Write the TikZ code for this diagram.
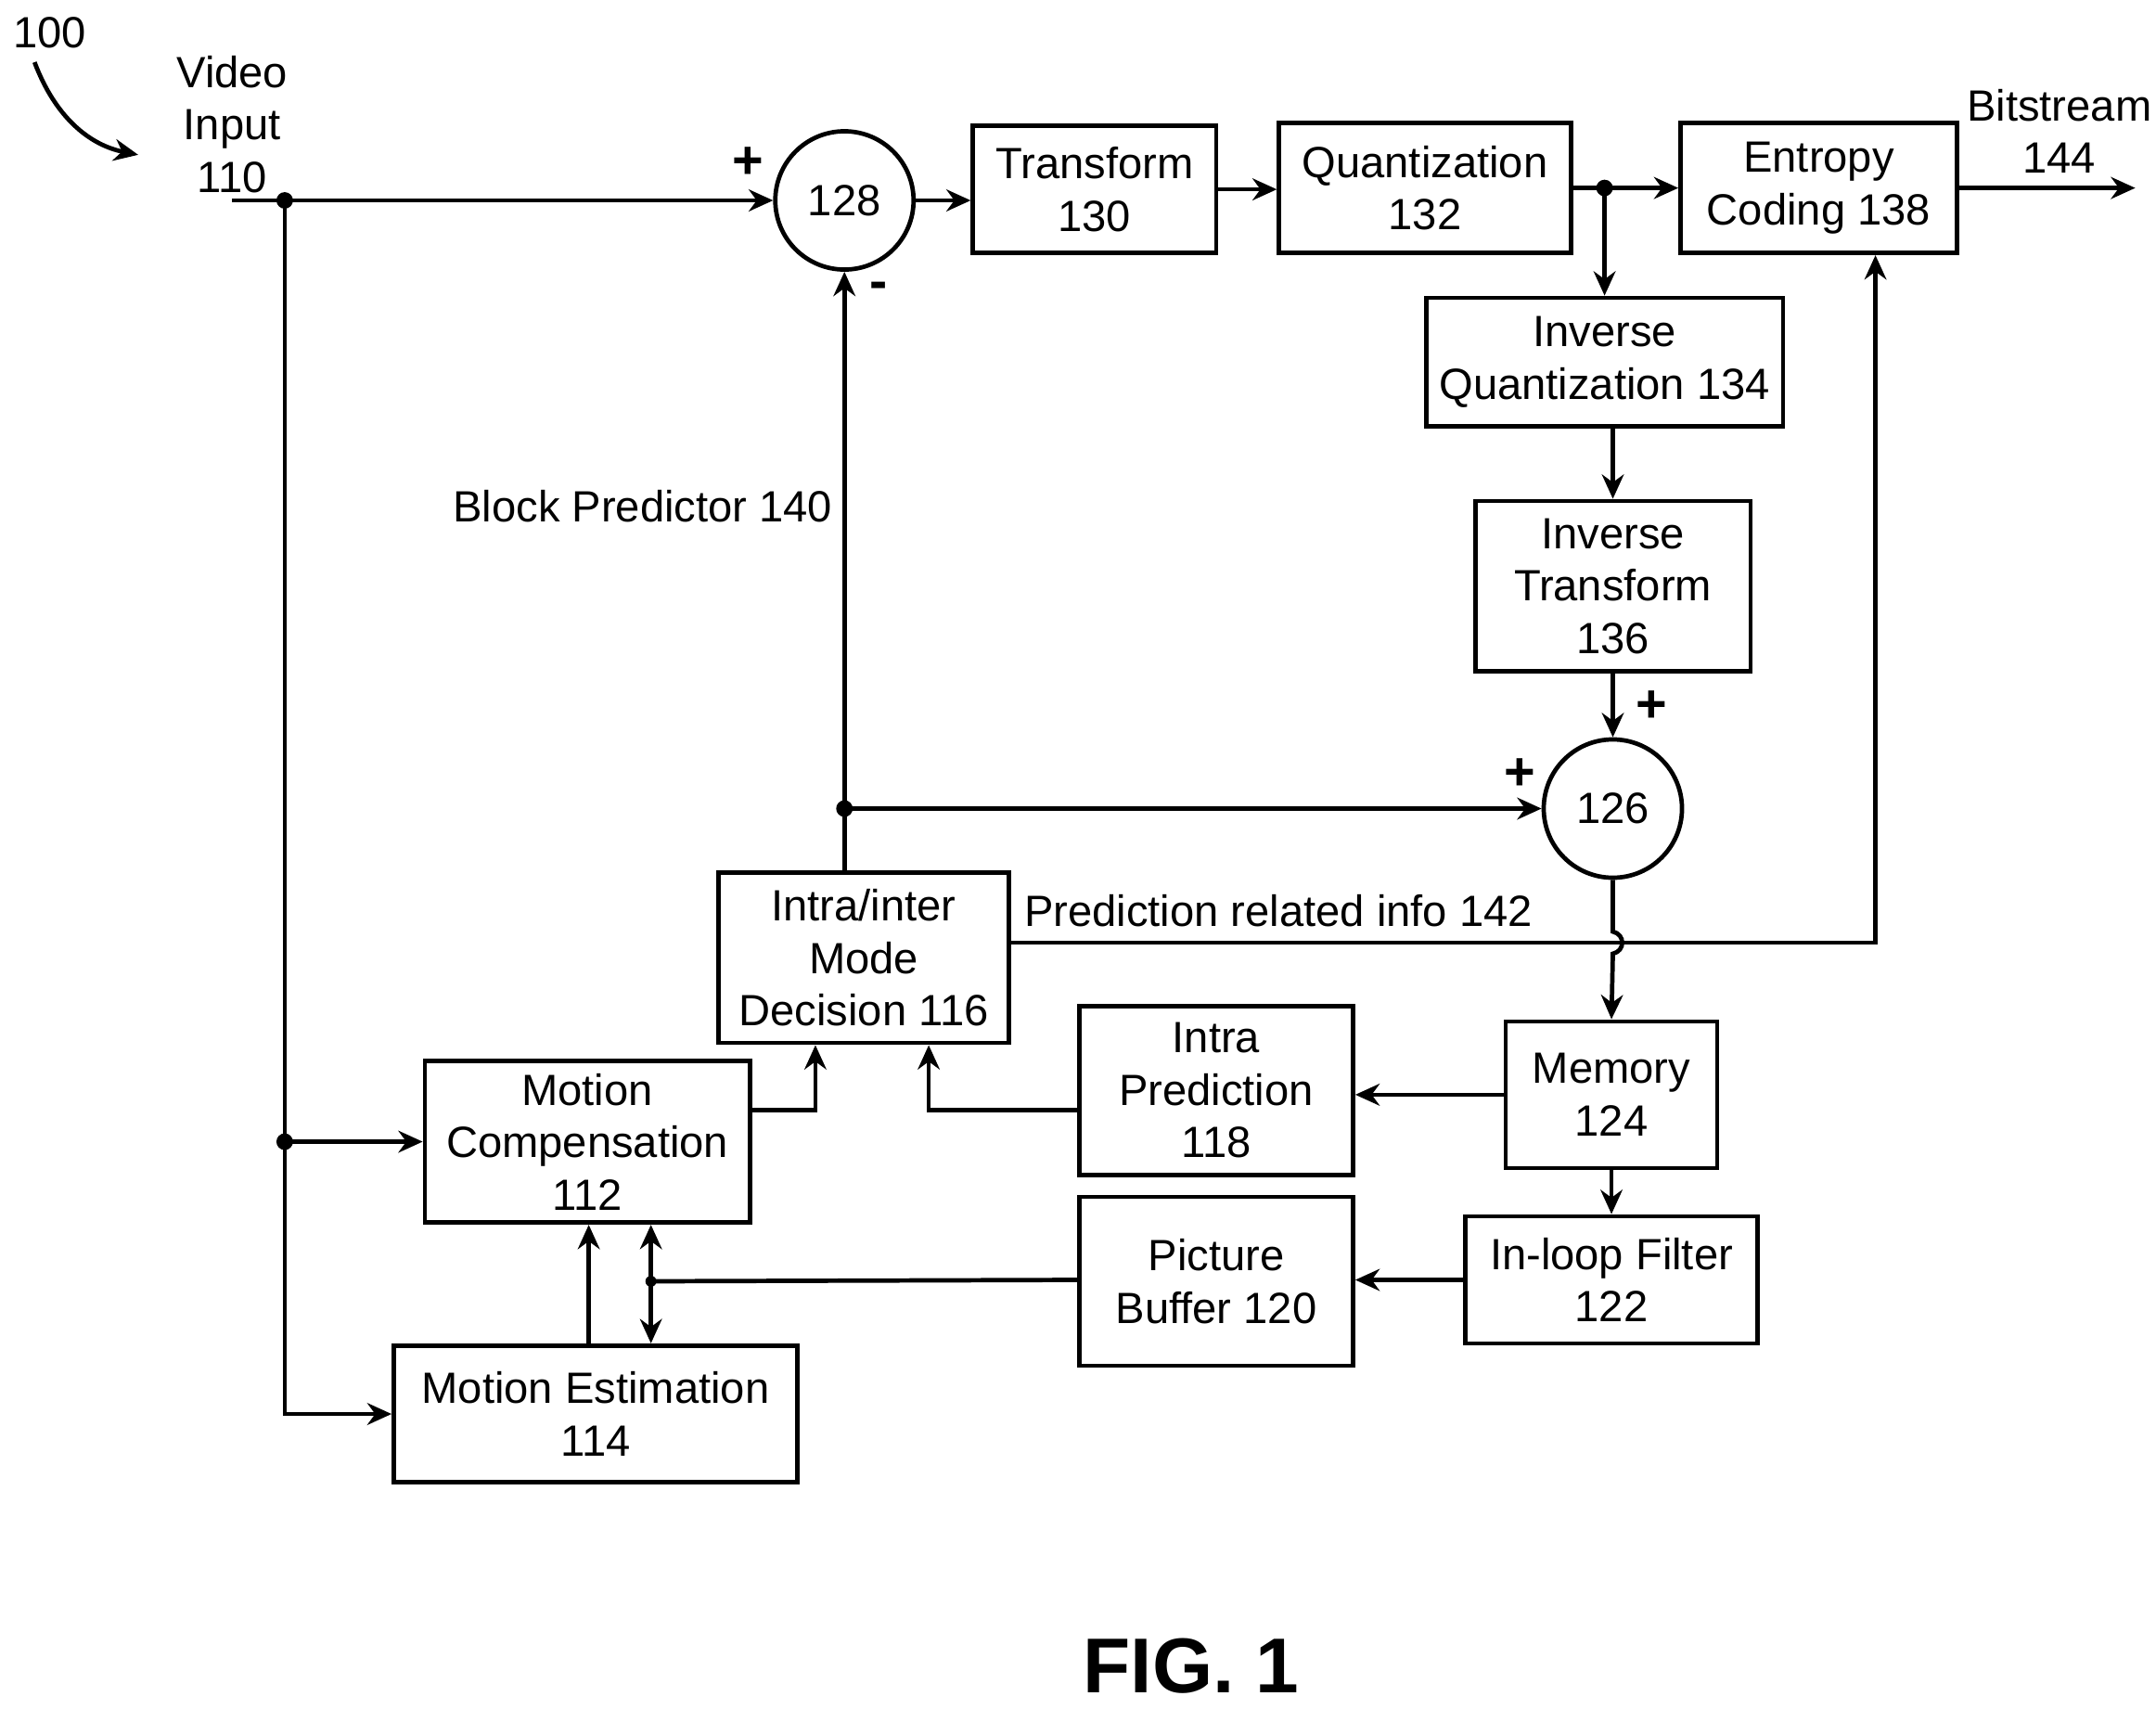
\documentclass[tikz,border=0pt]{standalone}
\usepackage{fontspec}
\setmainfont{Liberation Sans}
\usetikzlibrary{arrows.meta,positioning}
\tikzset{
  blk/.style={draw, line width=0.9pt, align=center, inner sep=0pt, font=\fontsize{9}{10.8}\selectfont},
  sumc/.style={draw, circle, line width=0.9pt, minimum size=1cm, inner sep=0pt, font=\fontsize{9}{10.8}\selectfont},
  wire/.style={line width=0.9pt},
  arr/.style={wire, -{Stealth[length=5pt,width=4.5pt]}},
  lbl/.style={font=\fontsize{9}{10.8}\selectfont, align=center},
  sgn/.style={font=\bfseries\fontsize{11}{11}\selectfont},
}
\begin{document}
\begin{tikzpicture}[x=0.01cm, y=-0.01cm]
  \useasboundingbox (0,0) rectangle (1560,1236);

  % blocks
  \node[sumc] (s128) at (611,145) {128};
  \node[blk, minimum width=1.76cm, minimum height=0.92cm] (tr) at (792,137) {Transform\\130};
  \node[blk, minimum width=2.11cm, minimum height=0.94cm] (qu) at (1031,136) {Quantization\\132};
  \node[blk, minimum width=2.0cm, minimum height=0.94cm] (ec) at (1316,136) {Entropy\\Coding 138};
  \node[blk, minimum width=2.58cm, minimum height=0.93cm] (iq) at (1161,262) {Inverse\\Quantization 134};
  \node[blk, minimum width=1.99cm, minimum height=1.23cm] (it) at (1167,424) {Inverse\\Transform\\136};
  \node[sumc] (s126) at (1167,585) {126};
  \node[blk, minimum width=2.1cm, minimum height=1.23cm] (md) at (625,693) {Intra/inter\\Mode\\Decision 116};
  \node[blk, minimum width=1.53cm, minimum height=1.06cm] (mem) at (1166,792) {Memory\\124};
  \node[blk, minimum width=1.98cm, minimum height=1.22cm] (ip) at (880,789) {Intra\\Prediction\\118};
  \node[blk, minimum width=2.11cm, minimum height=0.92cm] (ilf) at (1166,926) {In-loop Filter\\122};
  \node[blk, minimum width=1.98cm, minimum height=1.22cm] (pb) at (880,927) {Picture\\Buffer 120};
  \node[blk, minimum width=2.35cm, minimum height=1.17cm] (mc) at (425,826) {Motion\\Compensation\\112};
  \node[blk, minimum width=2.92cm, minimum height=0.99cm] (me) at (431,1023) {Motion Estimation\\114};

  % labels
  \node[lbl] (n100) at (36,24) {100};
  \node[lbl] (vin) at (168,90) {Video\\Input\\110};
  \node[lbl] (bs) at (1490,95) {Bitstream\\144};
  \node[lbl] (bp) at (465,366) {Block Predictor 140};
  \node[lbl] (pri) at (925,659) {Prediction related info 142};
  \node[font=\bfseries\fontsize{16}{19}\selectfont] (fig) at (862,1205) {FIG. 1};
  \node[sgn] (p1) at (541,118) {+};
  \node[sgn] (m1) at (636,210) {-};
  \node[sgn] (p2) at (1195,511) {+};
  \node[sgn] (p3) at (1100,560) {+};
  \draw[arr] (25,45) .. controls (40,85) and (65,105) .. (100,112);

  % points
  \coordinate (vi) at (168,145);
  \coordinate (d1) at (206,145);
  \coordinate (d2) at (206,826);
  \coordinate (d3) at (1161,136);
  \coordinate (d4) at (611,585);
  \coordinate (d5) at (471,927);
  \coordinate (bo) at (1545,136);

  % forward path
  \draw[arr] (vi) -- (s128);
  \draw[arr] (s128.east) -- (tr.west |- s128.east);
  \draw[arr] (tr.east) -- (qu.west |- tr.east);
  \draw[arr] (qu.east) -- (ec.west |- qu.east);
  \draw[arr] (d3) -- (iq.north -| d3);
  \draw[arr] (ec.east) -- (bo);
  \draw[arr] (d1) |- (me.west);
  \draw[arr] (d2) -- (mc.west);

  % reconstruction loop
  \draw[arr] (iq.south -| it.north) -- (it.north);
  \draw[arr] (it) -- (s126);
  \draw[arr] (md.north -| d4) -- (s128);
  \draw[arr] (d4) -- (s126);
  \draw[arr] (s126.south) -- (1167,674) .. controls (1176,676) and (1176,688) .. (1167,690) -- (mem.north);
  \draw[arr] (md.east |- 0,682) -- (1357,682) -- (ec.south -| 1357,0);
  \draw[arr] (mem.west) -- (ip.east |- mem.west);
  \draw[arr] (ip.west |- 0,803) -- (672,803) -- (md.south -| 672,0);
  \draw[arr] (mc.east |- 0,803) -- (590,803) -- (md.south -| 590,0);
  \draw[arr] (mem) -- (ilf);
  \draw[arr] (ilf.west) -- (pb.east |- ilf.west);
  \draw[wire] (pb.west |- ilf.west) -- (d5);
  \draw[arr] (d5) -- (mc.south -| d5);
  \draw[arr] (d5) -- (me.north -| d5);
  \draw[arr] (me.north -| 426,0) -- (mc.south -| 426,0);

  \foreach \p in {d1,d2,d3,d4} \fill (\p) circle (6);
  \fill (d5) circle (4);
\end{tikzpicture}
\end{document}
